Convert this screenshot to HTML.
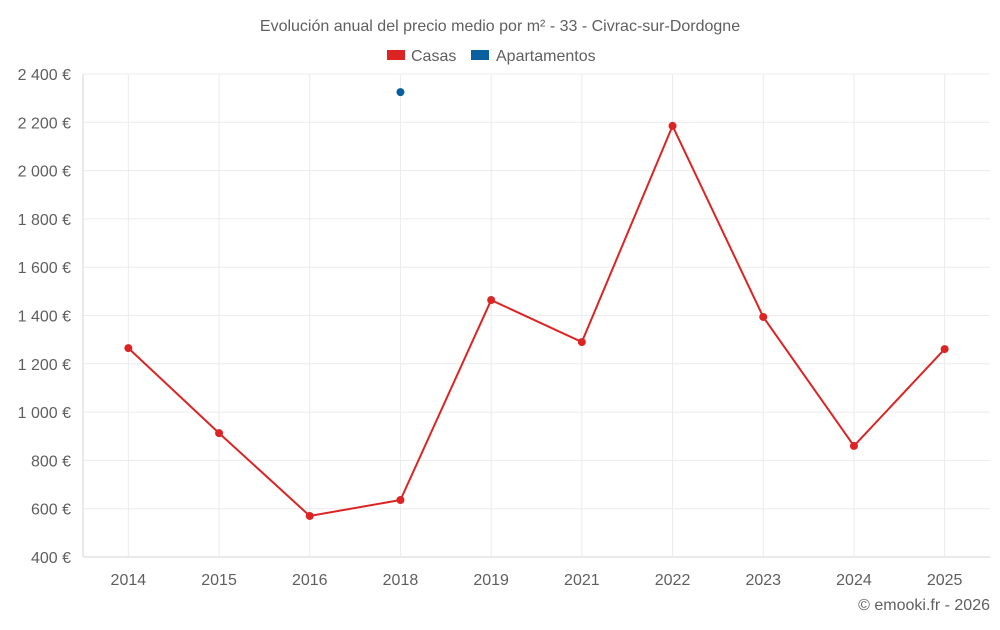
<!DOCTYPE html>
<html><head><meta charset="utf-8">
<style>
body{margin:0;background:#fff;width:1000px;height:625px;overflow:hidden;font-family:"Liberation Sans",sans-serif}
svg text{font-family:"Liberation Sans",sans-serif;fill:#5f5f5f}
</style></head>
<body>
<svg id="chart" width="1000" height="625" xmlns="http://www.w3.org/2000/svg">
<text x="500" y="31" text-anchor="middle" font-size="16">Evolución anual del precio medio por m² - 33 - Civrac-sur-Dordogne</text>
<g>
<rect x="387" y="50" width="18" height="10" fill="#dc2424"/>
<text x="411" y="61" font-size="16">Casas</text>
<rect x="471" y="50" width="18" height="10" fill="#0a5f9e"/>
<text x="496" y="61" font-size="16">Apartamentos</text>
</g>
<g id="grid"></g><g id="axes"></g><g id="marks"></g>
<text x="990" y="610" text-anchor="end" font-size="16">© emooki.fr - 2026</text>
</svg>
<script>
const categories=["2014","2015","2016","2018","2019","2021","2022","2023","2024","2025"];
const casas=[1265,913,570,636,1464,1290,2185,1394,860,1261];
const apartamentos=[null,null,null,2325,null,null,null,null,null,null];
const yTicks=[400,600,800,1000,1200,1400,1600,1800,2000,2200,2400];
const yTickLabels=["400 €","600 €","800 €","1 000 €","1 200 €","1 400 €","1 600 €","1 800 €","2 000 €","2 200 €","2 400 €"];
const NS="http://www.w3.org/2000/svg";
const L=83,R=990,T=74,B=557,yMin=400,yMax=2400;
const step=(R-L)/categories.length;
const x=i=>L+step*(i+0.5);
const y=v=>B-(v-yMin)/(yMax-yMin)*(B-T);
function mk(tag,attrs,parent){const e=document.createElementNS(NS,tag);for(const k in attrs)e.setAttribute(k,attrs[k]);parent.appendChild(e);return e;}
const grid=document.getElementById('grid'),axes=document.getElementById('axes'),marks=document.getElementById('marks');
yTicks.forEach((t,i)=>{
 const g=mk('line',{x1:L,x2:R,y1:y(t),y2:y(t),stroke:t===yMin?'#d6d6d6':'#ececec'},grid);
 
 
 const tx=mk('text',{x:71,y:y(t)+6,'text-anchor':'end','font-size':'16'},axes);
 tx.textContent=yTickLabels[i];
 
 
});
const ax=mk('line',{x1:L,x2:L,y1:T,y2:B,stroke:'#d6d6d6'},grid);


categories.forEach((c,i)=>{
 const gl=mk('line',{x1:x(i),x2:x(i),y1:T,y2:B,stroke:'#ececec'},grid);
 
 
 const tx=mk('text',{x:x(i),y:585,'text-anchor':'middle','font-size':'16'},axes);
 tx.textContent=c;
 
 
});
const pts=casas.map((v,i)=>v==null?null:[x(i),y(v)]).filter(p=>p);
const line=mk('polyline',{points:pts.map(p=>p.join(',')).join(' '),fill:'none',stroke:'#dc2424','stroke-width':2},marks);


casas.forEach((v,i)=>{if(v==null)return;
 const c=mk('circle',{cx:x(i),cy:y(v),r:4,fill:'#dc2424'},marks);
 
 
});
apartamentos.forEach((v,i)=>{if(v==null)return;
 const c=mk('circle',{cx:x(i),cy:y(v),r:4,fill:'#0a5f9e'},marks);
 
 
});
</script>
</body></html>
